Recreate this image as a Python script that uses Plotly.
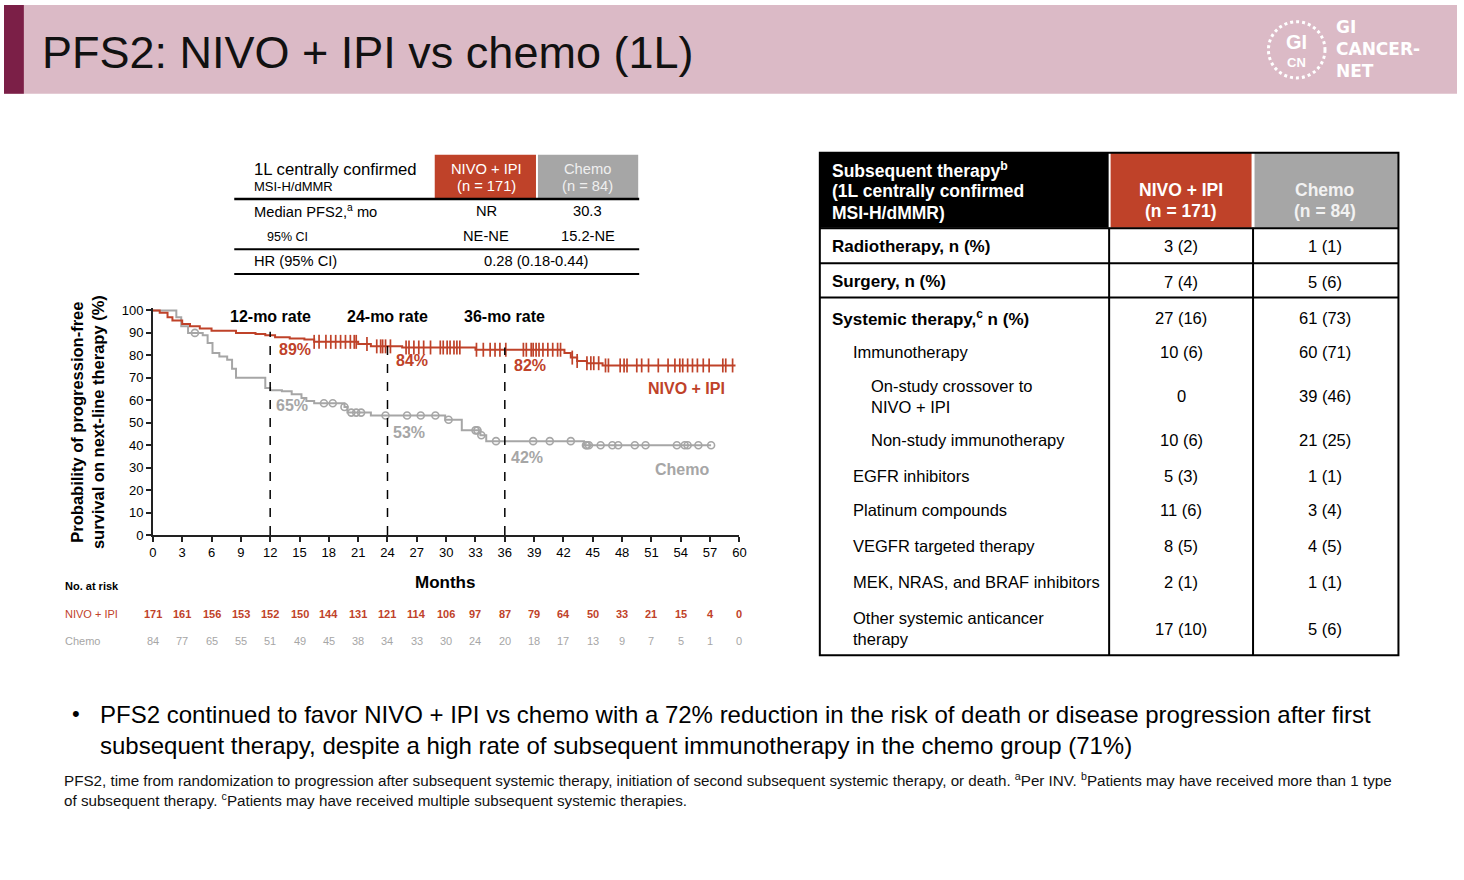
import plotly.graph_objects as go

W, H = 1464, 880
RED = "#BF4229"
GRAY = "#A6A6A6"
FONT = "Liberation Sans, Arial, Helvetica, sans-serif"

# ---------------- data ----------------
month_ticks = list(range(0, 61, 3))
y_ticks = list(range(0, 101, 10))

nivo_t = [0, 0.7, 1.5, 2.0, 3.0, 3.8, 4.8, 6.0, 8.5, 10.5, 11.5, 12.5, 14.0, 15.5,
          16.5, 21.0, 22.3, 25.5, 33.0, 42.1, 42.75, 43.4, 44.4, 46.0, 59.6]
nivo_s = [100, 99, 97, 95.5, 94, 93, 92, 91, 90, 89.5, 89, 88, 87.5, 87,
          86, 85, 84, 83.5, 82.5, 81, 79, 77.5, 76.5, 75.5, 75.5]
nivo_cens = [16.5, 17.0, 17.7, 18.2, 18.7, 19.2, 19.7, 20.2, 20.6, 20.8, 21.9, 22.9,
             23.3, 23.5, 23.8, 24.3, 25.9, 26.2, 26.7, 27.2, 27.7, 28.4, 29.4, 29.7,
             30.1, 30.4, 30.8, 31.1, 31.4, 33.1, 33.8, 34.5, 35.0, 35.5, 36.1, 37.9,
             38.2, 38.7, 38.9, 39.2, 39.5, 39.9, 40.4, 40.9, 41.4, 41.7, 42.9, 43.4,
             44.4, 44.8, 45.1, 45.6, 46.3, 46.6, 47.8, 48.2, 48.5, 49.5, 50.0, 50.7,
             51.7, 52.7, 53.4, 53.9, 54.2, 54.7, 55.2, 55.7, 56.3, 56.9, 58.3, 58.6, 59.3]

chemo_t = [0, 2.4, 2.9, 3.6, 5.1, 5.6, 6.1, 6.8, 7.6, 8.1, 8.5, 11.5, 12.0, 13.2,
           14.2, 15.2, 15.7, 16.5, 19.6, 19.9, 22.3, 29.9, 31.6, 33.5, 34.1, 44.1, 57.1]
chemo_s = [100, 97, 93, 90, 89, 85.5, 81, 79.5, 78, 74, 70, 65.5, 64.5, 64,
           62.7, 61, 59.7, 58.7, 57, 54.5, 53.2, 51.3, 46.6, 44.4, 41.8, 40, 40]
chemo_cens = [4.3, 17.5, 18.4, 19.6, 20.3, 20.8, 21.3, 23.8, 26.0, 27.4, 28.9, 30.25,
              33.0, 33.2, 33.6, 35.1, 38.9, 40.6, 42.75, 44.3, 44.4, 44.6, 45.8, 47.0,
              47.6, 49.3, 50.4, 53.6, 54.4, 54.7, 55.8, 57.1]

milestones = [12, 24, 36]
milestone_labels = ["12-mo rate", "24-mo rate", "36-mo rate"]
nivo_rates = [89, 84, 82]
chemo_rates = [65, 53, 42]

risk_nivo = [171, 161, 156, 153, 152, 150, 144, 131, 121, 114, 106, 97, 87, 79, 64, 50, 33, 21, 15, 4, 0]
risk_chemo = [84, 77, 65, 55, 51, 49, 45, 38, 34, 33, 30, 24, 20, 18, 17, 13, 9, 7, 5, 1, 0]

arms = ["NIVO + IPI", "Chemo"]
arm_n = [171, 84]

pfs_labels = ["Median PFS2,<sup>a</sup> mo", "95% CI"]
pfs_nivo = ["NR", "NE-NE"]
pfs_chemo = ["30.3", "15.2-NE"]
hr_label = "HR (95% CI)"
hr_value = "0.28 (0.18-0.44)"

sub_rows = ["Radiotherapy, n (%)", "Surgery, n (%)", "Systemic therapy,<sup>c</sup> n (%)",
            "Immunotherapy", "On-study crossover to<br>NIVO + IPI", "Non-study immunotherapy",
            "EGFR inhibitors", "Platinum compounds", "VEGFR targeted therapy",
            "MEK, NRAS, and BRAF inhibitors", "Other systemic anticancer<br>therapy"]
sub_nivo = ["3 (2)", "7 (4)", "27 (16)", "10 (6)", "0", "10 (6)", "5 (3)", "11 (6)", "8 (5)", "2 (1)", "17 (10)"]
sub_chemo = ["1 (1)", "5 (6)", "61 (73)", "60 (71)", "39 (46)", "21 (25)", "1 (1)", "3 (4)", "4 (5)", "1 (1)", "5 (6)"]
sub_level = [0, 0, 0, 1, 2, 2, 1, 1, 1, 1, 1]

title = "PFS2: NIVO + IPI vs chemo (1L)"
bullet = ("PFS2 continued to favor NIVO + IPI vs chemo with a 72% reduction in the risk of death or disease progression after first<br>"
          "subsequent therapy, despite a high rate of subsequent immunotherapy in the chemo group (71%)")
footnote = ("PFS2, time from randomization to progression after subsequent systemic therapy, initiation of second subsequent systemic therapy, or death. "
            "<sup>a</sup>Per INV. <sup>b</sup>Patients may have received more than 1 type<br>"
            "of subsequent therapy. <sup>c</sup>Patients may have received multiple subsequent systemic therapies.")


# ---------------- helpers ----------------
def X(p):
    return p / W


def Y(p):
    return 1 - p / H


def surv_at(t, ts, ss):
    v = ss[0]
    for ti, si in zip(ts, ss):
        if ti <= t:
            v = si
    return v


annotations = []
shapes = []


def txt(x, y, text, size=14, color="black", bold=False, xanchor="left", align="left", family=FONT, **kw):
    if bold:
        text = "<b>" + text + "</b>"
    annotations.append(dict(x=X(x), y=Y(y), xref="paper", yref="paper", text=text, showarrow=False,
                            xanchor=xanchor, yanchor="middle", align=align, borderpad=0,
                            font=dict(family=family, size=size, color=color), **kw))


def rect(x0, y0, x1, y1, fill, line=None, lw=0):
    shapes.append(dict(type="rect", xref="paper", yref="paper", x0=X(x0), x1=X(x1), y0=Y(y0), y1=Y(y1),
                       fillcolor=fill, line=dict(width=lw, color=line or fill), layer="below"))


def hline(x0, x1, y, lw=1.5, color="black"):
    shapes.append(dict(type="line", xref="paper", yref="paper", x0=X(x0), x1=X(x1), y0=Y(y), y1=Y(y),
                       line=dict(width=lw, color=color)))


def vline(x, y0, y1, lw=1.5, color="black"):
    shapes.append(dict(type="line", xref="paper", yref="paper", x0=X(x), x1=X(x), y0=Y(y0), y1=Y(y1),
                       line=dict(width=lw, color=color)))


# ---------------- figure ----------------
fig = go.Figure()

fig.add_trace(go.Scatter(x=chemo_t, y=chemo_s, mode="lines", line=dict(color=GRAY, width=2, shape="hv"),
                         hoverinfo="skip"))
fig.add_trace(go.Scatter(x=chemo_cens, y=[surv_at(t, chemo_t, chemo_s) for t in chemo_cens], mode="markers",
                         marker=dict(symbol="circle-open", size=7, color=GRAY, line=dict(width=1.6, color=GRAY)),
                         cliponaxis=False, hoverinfo="skip"))
fig.add_trace(go.Scatter(x=nivo_t, y=nivo_s, mode="lines", line=dict(color=RED, width=2, shape="hv"),
                         hoverinfo="skip"))
fig.add_trace(go.Scatter(x=nivo_cens, y=[surv_at(t, nivo_t, nivo_s) for t in nivo_cens], mode="markers",
                         marker=dict(symbol="line-ns", size=10, color=RED, line=dict(width=1.7, color=RED)),
                         cliponaxis=False, hoverinfo="skip"))

# milestone dashed lines and labels
for m, lab, rn, rc in zip(milestones, milestone_labels, nivo_rates, chemo_rates):
    shapes.append(dict(type="line", xref="x", yref="y", x0=m, x1=m, y0=0, y1=rn + 1.5,
                       line=dict(color="black", width=1.5, dash="dash")))
    annotations.append(dict(x=m, y=Y(316), xref="x", yref="paper", text="<b>" + lab + "</b>", showarrow=False,
                            xanchor="center", yanchor="middle", font=dict(family=FONT, size=16, color="black")))
    annotations.append(dict(x=m, y=rn, xref="x", yref="y", text="<b>%d%%</b>" % rn, showarrow=False,
                            xanchor="left", yanchor="top", xshift=7, yshift=-4,
                            font=dict(family=FONT, size=16, color=RED)))
    annotations.append(dict(x=m, y=rc, xref="x", yref="y", text="<b>%d%%</b>" % rc, showarrow=False,
                            xanchor="left", yanchor="top", xshift=4, yshift=-6,
                            font=dict(family=FONT, size=16, color=GRAY)))

# curve labels
txt(688, 389, "NIVO + IPI", size=16, color=RED, bold=True, xanchor="center")
txt(683, 471, "Chemo", size=16, color=GRAY, bold=True, xanchor="center")

# axis titles
annotations.append(dict(x=X(84), y=Y(423), xref="paper", yref="paper",
                        text="<b>Probability of progression-free<br>survival on next-line therapy (%)</b>",
                        showarrow=False, textangle=-90, xanchor="center", yanchor="middle", align="center",
                        font=dict(family=FONT, size=16.5, color="black")))
txt(444, 586, "Months", size=17, bold=True, xanchor="center")

# number at risk
txt(60, 590, "No. at risk", size=11, bold=True)
txt(60, 618, "NIVO + IPI", size=11, color=RED)
txt(60, 646, "Chemo", size=11, color=GRAY)
for m, rn, rc in zip(month_ticks, risk_nivo, risk_chemo):
    annotations.append(dict(x=m, y=Y(618), xref="x", yref="paper", text="<b>%d</b>" % rn, showarrow=False,
                            xanchor="center", yanchor="middle", font=dict(family=FONT, size=11, color=RED)))
    annotations.append(dict(x=m, y=Y(646), xref="x", yref="paper", text="%d" % rc, showarrow=False,
                            xanchor="center", yanchor="middle", font=dict(family=FONT, size=11, color=GRAY)))

# ---------------- header band ----------------
rect(0, 0, W, 90, "#DBBAC6")
rect(0, 0, 20, 90, "#7B1F47")
txt(37, 48, title, size=45, color="#111111")
# logo
shapes.append(dict(type="circle", xref="paper", yref="paper", x0=X(1274), x1=X(1331), y0=Y(74), y1=Y(17),
                   line=dict(color="white", width=3, dash="dot")))
txt(1302, 38, "GI", size=20, color="white", bold=True, xanchor="center")
txt(1302, 58, "CN", size=13, color="white", bold=True, xanchor="center")
txt(1341, 45, "GI<br>CANCER-<br>NET", size=17, color="white", bold=True, family="DejaVu Sans, sans-serif")

# ---------------- left summary table ----------------
rect(434, 152, 536, 197, RED)
rect(538, 152, 639, 197, GRAY)
txt(251, 167, "1L centrally confirmed", size=16.7)
txt(251, 184, "MSI-H/dMMR", size=13)
for cx, arm, n in zip([486, 588], arms, arm_n):
    col = "white" if arm != "Chemo" else "#EFEFEF"
    txt(cx, 166, arm, size=14.7, color=col, xanchor="center")
    txt(cx, 184, "(n = %d)" % n, size=14.7, color=col, xanchor="center")
hline(232, 640, 197, lw=2.5)
txt(251, 209, pfs_labels[0], size=14.7)
txt(264, 235, pfs_labels[1], size=12.5)
for yy, a, b in zip([209, 234], pfs_nivo, pfs_chemo):
    txt(486, yy, a, size=14.7, xanchor="center")
    txt(588, yy, b, size=14.7, xanchor="center")
hline(232, 640, 248, lw=2)
txt(251, 260, hr_label, size=14.7)
txt(537, 260, hr_value, size=14.7, xanchor="center")
hline(232, 640, 273, lw=2)

# ---------------- right subsequent therapy table ----------------
rect(822, 150, 1113, 226, "black")
rect(1115, 150, 1257, 226, RED)
rect(1260, 150, 1405, 226, GRAY)
txt(833, 167, "Subsequent therapy<sup>b</sup>", size=17.5, color="white", bold=True)
txt(833, 189, "(1L centrally confirmed", size=17.5, color="white", bold=True)
txt(833, 211, "MSI-H/dMMR)", size=17.5, color="white", bold=True)
for cx, arm, n in zip([1186, 1331], arms, arm_n):
    col = "white" if arm != "Chemo" else "#F2F2F2"
    txt(cx, 188, arm, size=17.5, color=col, bold=True, xanchor="center")
    txt(cx, 209, "(n = %d)" % n, size=17.5, color=col, bold=True, xanchor="center")

row_y = [245, 281, 318, 352, 397, 442, 478, 513, 549, 586, 633]
indent_x = [833, 854, 873]
for yy, lab, a, b, lvl in zip(row_y, sub_rows, sub_nivo, sub_chemo, sub_level):
    txt(indent_x[lvl], yy, lab, size=17 if lvl == 0 else 16.5, bold=(lvl == 0))
    txt(1186, yy, a, size=16.5, xanchor="center")
    txt(1331, yy, b, size=16.5, xanchor="center")

hline(822, 1405, 226.5, lw=2)
hline(822, 1405, 262, lw=2)
hline(822, 1405, 297, lw=2)
vline(1113.5, 226, 660, lw=2)
vline(1258.5, 226, 660, lw=2)
shapes.append(dict(type="rect", xref="paper", yref="paper", x0=X(822), x1=X(1405), y0=Y(660), y1=Y(150),
                   line=dict(color="black", width=2), fillcolor="rgba(0,0,0,0)"))

# ---------------- bullet + footnote ----------------
txt(68, 719, "•", size=22, color="black")
annotations.append(dict(x=X(96), y=Y(705), xref="paper", yref="paper", text=bullet, showarrow=False,
                        xanchor="left", yanchor="top", align="left", borderpad=0,
                        font=dict(family=FONT, size=24, color="black")))
annotations.append(dict(x=X(59), y=Y(775), xref="paper", yref="paper", text=footnote, showarrow=False,
                        xanchor="left", yanchor="top", align="left", borderpad=0,
                        font=dict(family=FONT, size=15.2, color="#111111")))

# ---------------- layout ----------------
y_top_px = 310 - 2.28  # value 101
axis_common = dict(ticks="outside", ticklen=5, tickwidth=1.5, tickcolor="#222", showline=True,
                   linecolor="#222", linewidth=1.5, showgrid=False, zeroline=False,
                   tickfont=dict(size=13, family=FONT, color="black"), fixedrange=True)
fig.update_layout(
    width=W, height=H, margin=dict(l=0, r=0, t=0, b=0),
    paper_bgcolor="white", plot_bgcolor="white", showlegend=False,
    font=dict(family=FONT, color="black"),
    xaxis=dict(range=[0, 60], domain=[X(150), X(741)], tickvals=month_ticks, **axis_common),
    yaxis=dict(range=[0, 101], domain=[Y(538), Y(y_top_px)], tickvals=y_ticks, **axis_common),
    shapes=shapes, annotations=annotations,
)

post = ("document.documentElement.style.margin='0';document.documentElement.style.padding='0';"
        "document.documentElement.style.overflow='hidden';"
        "document.body.style.margin='0';document.body.style.padding='0';document.body.style.overflow='hidden';"
        "var gd=document.getElementById('{plot_id}');gd.style.position='fixed';gd.style.left='0px';gd.style.top='0px';")
fig.write_html("out.html", config={"displayModeBar": False}, post_script=post)
